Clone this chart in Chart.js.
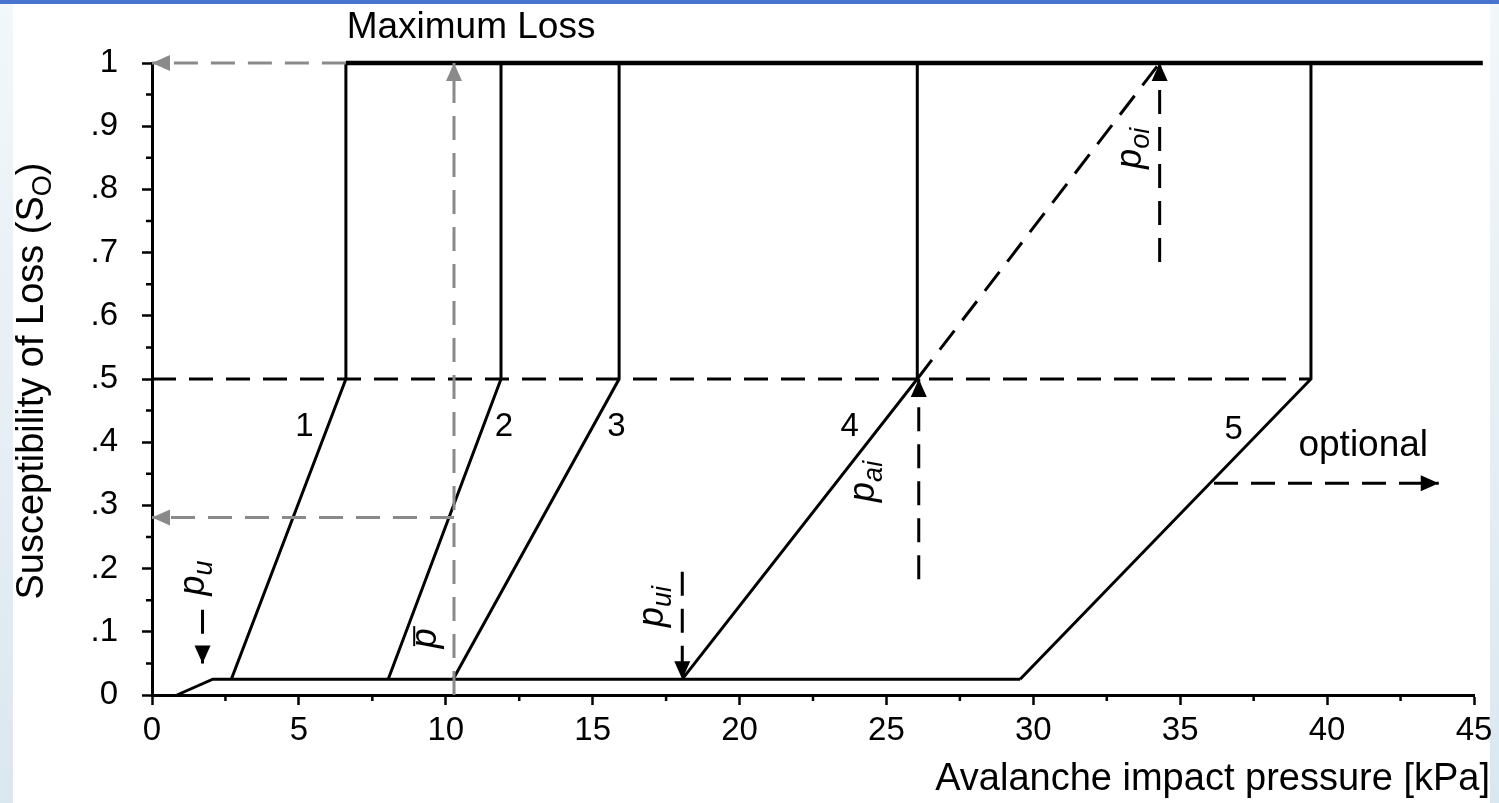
<!DOCTYPE html>
<html>
<head>
<meta charset="utf-8">
<script src="https://cdn.jsdelivr.net/npm/chart.js@4.4.1/dist/chart.umd.min.js"></script>
<style>
  html, body { margin: 0; padding: 0; background: #fff; }
  #frame { position: relative; width: 1499px; height: 803px; overflow: hidden; background: #fff; }
  #topbar { position: absolute; left: 0; top: 0; width: 1499px; height: 4px; background: #4774cc; }
  #leftbar { position: absolute; left: 0; top: 4px; width: 13px; height: 799px; background: linear-gradient(#f2f7fa, #dbe7ef); }
  #rightbar { position: absolute; right: 0; top: 4px; width: 9px; height: 799px; background: linear-gradient(#f2f7fa, #dbe7ef); }
  #chartBox { position: absolute; left: 0; top: 0; width: 1499px; height: 803px; }
</style>
</head>
<body>
<div id="frame">
  <div id="topbar"></div>
  <div id="leftbar"></div>
  <div id="rightbar"></div>
  <div id="chartBox"><canvas id="lossChart"></canvas></div>
</div>
<script>
// axes
const xMin = 0, xMax = 45, xStep = 5
const yMin = 0, yMax = 1, yStep = 0.1
const xTitle = 'Avalanche impact pressure [kPa]'
const yTitle = 'Susceptibility of Loss (S'
const yTitleSub = 'O'

// levels
const floorLevel = 0.025
const midLevel = 0.5
const maxLevel = 1

// the five loss curves: start on the floor line, reach .5, then jump to 1
const curveNames = ['1', '2', '3', '4', '5']
const curveStartX = [2.7, 8.04, 10.25, 18.05, 29.55]
const curveMidX = [6.6, 11.88, 15.9, 26.05, 39.45]

// floor line with its small ramp at the origin
const floorX = [0.85, 2.07, 29.55]
const floorY = [0, floorLevel, floorLevel]

// top "maximum loss" line
const topLineX = [6.6, 45.3]

// dashed extrapolation of curve 4
const diagX = [26.05, 34.3]
const diagY = [midLevel, maxLevel]

// pressure arrows (black dashed)
const arrowNames = ['poi', 'pai', 'pui', 'pu']
const arrowX = [34.3, 26.1, 18.05, 1.72]
const arrowFromY = [0.685, 0.183, 0.195, 0.135]
const arrowToY = [maxLevel, midLevel, floorLevel, 0.05]

// "optional" arrow
const optX = [36.15, 43.8]
const optY = [0.335, 0.335]

// grey reading example at p-bar
const pBarX = 10.28
const pBarLossY = 0.281

// text notes
const noteText = ['1', '2', '3', '4', '5', 'optional']
const noteX = [5.19, 11.98, 15.81, 23.75, 36.82, 41.23]
const noteY = [0.424, 0.424, 0.424, 0.424, 0.42, 0.394]
const headText = 'Maximum Loss'
const headX = 10.86, headY = 1.056

// rotated pressure symbols
const symSub = ['oi', 'ai', 'ui', 'u', '']
const symBar = [false, false, false, false, true]
const symX = [33.46, 24.36, 17.2, 1.56, 9.47]
const symY = [0.865, 0.338, 0.14, 0.185, 0.09]

const FONT = "'Liberation Sans', Arial, sans-serif"
const BLACK = '#000'
const GREY = '#8a8a8a'
const DASH = [24, 13]

const pts = (xs, ys) => xs.map((x, i) => ({ x: x, y: ys[i] }))

const datasets = []
const line = (data, opts) => datasets.push(Object.assign({
  data: data, showLine: true, pointRadius: 0, borderColor: BLACK,
  backgroundColor: BLACK, borderWidth: 3, clip: false, tension: 0
}, opts))

// grey guides first
line(pts([pBarX, pBarX], [0, maxLevel]), { borderColor: GREY, backgroundColor: GREY, borderDash: DASH, arrow: true })
line(pts([pBarX, 0], [pBarLossY, pBarLossY]), { borderColor: GREY, backgroundColor: GREY, borderDash: DASH, arrow: true })
line(pts([topLineX[0], 0], [maxLevel, maxLevel]), { borderColor: GREY, backgroundColor: GREY, borderDash: DASH, arrow: true })

line(pts(floorX, floorY), {})
curveNames.forEach((n, i) => {
  line(pts([curveStartX[i], curveMidX[i], curveMidX[i]], [floorLevel, midLevel, maxLevel]), { label: n })
})
line(pts(topLineX, [maxLevel, maxLevel]), { borderWidth: 4.5 })
line(pts([0, curveMidX[4]], [midLevel, midLevel]), { borderDash: DASH })
line(pts(diagX, diagY), { borderDash: DASH })
arrowNames.forEach((n, i) => {
  line(pts([arrowX[i], arrowX[i]], [arrowFromY[i], arrowToY[i]]), { borderDash: DASH, arrow: true, label: n })
})
line(pts(optX, optY), { borderDash: DASH, arrow: true })

const arrowPlugin = {
  id: 'arrowHeads',
  afterDatasetsDraw(chart) {
    const ctx = chart.ctx
    chart.data.datasets.forEach((ds, i) => {
      if (!ds.arrow) return
      const el = chart.getDatasetMeta(i).data
      const a = el[el.length - 2], b = el[el.length - 1]
      const ang = Math.atan2(b.y - a.y, b.x - a.x)
      const L = 18, W = 8
      const bx = b.x - L * Math.cos(ang), by = b.y - L * Math.sin(ang)
      ctx.save()
      ctx.fillStyle = ds.borderColor
      ctx.beginPath()
      ctx.moveTo(b.x, b.y)
      ctx.lineTo(bx + W * Math.sin(ang), by - W * Math.cos(ang))
      ctx.lineTo(bx - W * Math.sin(ang), by + W * Math.cos(ang))
      ctx.closePath()
      ctx.fill()
      ctx.restore()
    })
  }
}

const textPlugin = {
  id: 'notes',
  afterDraw(chart) {
    const ctx = chart.ctx
    const sx = chart.scales.x, sy = chart.scales.y
    ctx.save()
    ctx.fillStyle = BLACK
    ctx.textAlign = 'center'
    ctx.textBaseline = 'middle'

    // minor ticks
    ctx.strokeStyle = BLACK
    ctx.lineWidth = 2.5
    ctx.beginPath()
    for (let v = 2.5; v < xMax; v += 5) {
      const px = sx.getPixelForValue(v)
      ctx.moveTo(px, sy.bottom); ctx.lineTo(px, sy.bottom + 6)
    }
    for (let v = 0.05; v < yMax; v += 0.1) {
      const py = sy.getPixelForValue(v)
      ctx.moveTo(sx.left, py); ctx.lineTo(sx.left - 6, py)
    }
    ctx.stroke()

    ctx.font = '33px ' + FONT
    noteText.slice(0, 5).forEach((t, i) => {
      ctx.fillText(t, sx.getPixelForValue(noteX[i]), sy.getPixelForValue(noteY[i]))
    })
    ctx.font = '37px ' + FONT
    ctx.fillText(noteText[5], sx.getPixelForValue(noteX[5]), sy.getPixelForValue(noteY[5]))
    ctx.fillText(headText, sx.getPixelForValue(headX), sy.getPixelForValue(headY))

    // rotated italic symbols
    symSub.forEach((sub, i) => {
      ctx.save()
      ctx.translate(sx.getPixelForValue(symX[i]), sy.getPixelForValue(symY[i]))
      ctx.rotate(-Math.PI / 2)
      ctx.textAlign = 'left'
      ctx.textBaseline = 'alphabetic'
      ctx.font = 'italic 36px ' + FONT
      const wp = ctx.measureText('p').width
      ctx.font = 'italic 27px ' + FONT
      const ws = sub ? ctx.measureText(sub).width : 0
      const x0 = -(wp + ws) / 2
      ctx.font = 'italic 36px ' + FONT
      ctx.fillText('p', x0, 6)
      if (sub) {
        ctx.font = 'italic 27px ' + FONT
        ctx.fillText(sub, x0 + wp, 14)
      }
      if (symBar[i]) {
        ctx.lineWidth = 2
        ctx.beginPath()
        ctx.moveTo(x0 + 2, -16); ctx.lineTo(x0 + wp + 2, -16)
        ctx.stroke()
      }
      ctx.restore()
    })

    // axis titles
    ctx.font = '38px ' + FONT
    ctx.textAlign = 'right'
    ctx.textBaseline = 'alphabetic'
    ctx.fillText(xTitle, 1490, 790)

    ctx.save()
    ctx.translate(43, 381)
    ctx.rotate(-Math.PI / 2)
    ctx.font = '38px ' + FONT
    const w1 = ctx.measureText(yTitle).width
    ctx.font = '27px ' + FONT
    const w2 = ctx.measureText(yTitleSub).width
    ctx.font = '38px ' + FONT
    const w3 = ctx.measureText(')').width
    const x0 = -(w1 + w2 + w3) / 2
    ctx.textAlign = 'left'
    ctx.fillText(yTitle, x0, 0)
    ctx.font = '27px ' + FONT
    ctx.fillText(yTitleSub, x0 + w1, 8)
    ctx.font = '38px ' + FONT
    ctx.fillText(')', x0 + w1 + w2, 0)
    ctx.restore()

    ctx.restore()
  }
}

new Chart(document.getElementById('lossChart'), {
  type: 'scatter',
  data: { datasets: datasets },
  options: {
    responsive: true,
    maintainAspectRatio: false,
    animation: false,
    devicePixelRatio: 1,
    layout: { padding: { top: 63, right: 25, left: 0, bottom: 0 } },
    plugins: { legend: { display: false }, tooltip: { enabled: false } },
    scales: {
      x: {
        type: 'linear', min: xMin, max: xMax,
        afterFit: s => { s.height = 108 },
        border: { display: true, color: BLACK, width: 3 },
        grid: { display: true, drawOnChartArea: false, drawTicks: true, tickLength: 10, tickWidth: 2.5, tickColor: BLACK },
        ticks: { stepSize: xStep, color: BLACK, padding: 6, maxRotation: 0, font: { family: FONT, size: 33 } }
      },
      y: {
        type: 'linear', min: yMin, max: yMax,
        afterFit: s => { s.width = 152 },
        border: { display: true, color: BLACK, width: 3 },
        grid: { display: true, drawOnChartArea: false, drawTicks: true, tickLength: 10, tickWidth: 2.5, tickColor: BLACK },
        ticks: {
          stepSize: yStep, color: BLACK, padding: 24, font: { family: FONT, size: 33 },
          callback: v => {
            const r = Math.round(v * 10)
            if (r === 0) return '0'
            if (r === 10) return '1'
            return '.' + r
          }
        }
      }
    }
  },
  plugins: [arrowPlugin, textPlugin]
})
</script>
</body>
</html>
